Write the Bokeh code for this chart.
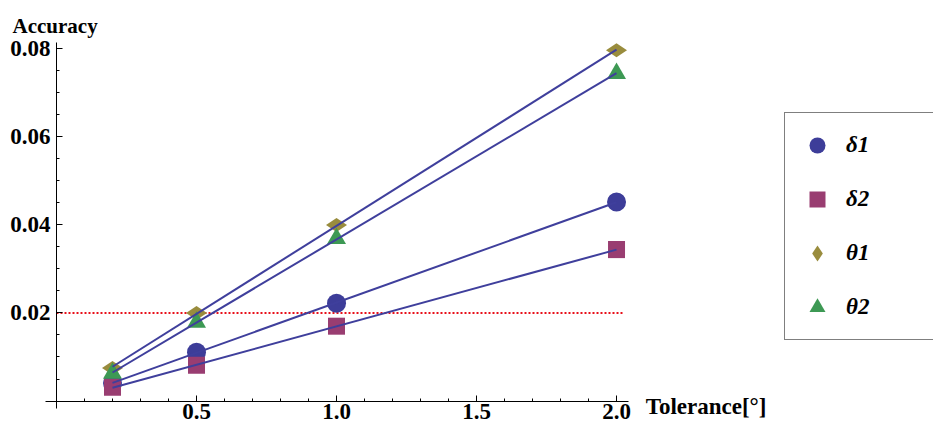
import numpy as np
from bokeh.plotting import figure
from bokeh.models import (Range1d, FixedTicker, PrintfTickFormatter, Label,
                          Legend, LegendItem)
from bokeh.embed import file_html
from bokeh.resources import INLINE

# Tolerance values (degrees) and accuracy for each parameter
tolerance = [0.2, 0.5, 1.0, 2.0]
delta1 = [0.0041, 0.0111, 0.0222, 0.0452]
delta2 = [0.0031, 0.0081, 0.0170, 0.0344]
theta1 = [0.0075, 0.0200, 0.0400, 0.0797]
theta2 = [0.0063, 0.0179, 0.0369, 0.0744]
series_names = ["δ1", "δ2", "θ1", "θ2"]

threshold = 0.02

x_major = [0.5, 1.0, 1.5, 2.0]
x_minor = [0.1, 0.2, 0.3, 0.4, 0.6, 0.7, 0.8, 0.9, 1.1, 1.2, 1.3, 1.4,
           1.6, 1.7, 1.8, 1.9]
y_major = [0.02, 0.04, 0.06, 0.08]
y_minor = [0.005, 0.01, 0.015, 0.025, 0.03, 0.035, 0.045, 0.05, 0.055,
           0.065, 0.07, 0.075]

FONT = "Liberation Serif"
LINE_COLOR = "#3f3f9c"
colors = ["#3d3d99", "#993d71", "#998c3d", "#3d9954"]
markers = ["circle", "square", "diamond", "triangle"]
angles = [0, 0, np.pi / 2, 0]
sizes = [19, 17, 21, 19]

p = figure(width=933, height=430, output_backend="svg", toolbar_location=None,
           x_range=Range1d(-0.2, 3.132), y_range=Range1d(-0.0067, 0.0910),
           min_border=0, min_border_left=0, min_border_right=0,
           min_border_top=0, min_border_bottom=0)
p.outline_line_color = None
p.grid.visible = False
p.background_fill_color = "white"
p.border_fill_color = "white"

# axes crossing at the origin
for ax in (p.xaxis[0], p.yaxis[0]):
    ax.fixed_location = 0
    ax.axis_line_color = "black"
    ax.axis_line_width = 1
    ax.major_tick_in = 6
    ax.major_tick_out = 0
    ax.minor_tick_in = 3
    ax.minor_tick_out = 0
    ax.major_tick_line_color = "black"
    ax.minor_tick_line_color = "black"
    ax.major_label_text_font = FONT
    ax.major_label_text_font_style = "bold"
    ax.major_label_text_font_size = "23px"
    ax.major_label_text_color = "black"

p.xaxis[0].ticker = FixedTicker(ticks=x_major, minor_ticks=x_minor)
p.xaxis[0].formatter = PrintfTickFormatter(format="%.1f")
p.xaxis[0].bounds = (-0.04, 2.043)
p.xaxis[0].major_label_standoff = 3

p.yaxis[0].ticker = FixedTicker(ticks=y_major, minor_ticks=y_minor)
p.yaxis[0].formatter = PrintfTickFormatter(format="%.2f")
p.yaxis[0].bounds = (-0.0017, 0.0814)
p.yaxis[0].major_label_standoff = 6

# dotted threshold line
p.line([0, 2.025], [threshold, threshold], line_color="#e8101a",
       line_width=2, line_dash="2 2")

all_series = [delta1, delta2, theta1, theta2]
renderers = []
for ys, col, mk, ang, sz in zip(all_series, colors, markers, angles, sizes):
    r = p.scatter(tolerance, ys, marker=mk, size=sz, angle=ang,
                  fill_color=col, line_color=None)
    renderers.append(r)

# least-squares lines over the tolerance range
xfit = np.array([tolerance[0], tolerance[-1]])
for ys in all_series:
    k, b = np.polyfit(tolerance, ys, 1)
    p.line(xfit, k * xfit + b, line_color=LINE_COLOR, line_width=2)

legend = Legend(items=[LegendItem(label=n, renderers=[r])
                       for n, r in zip(series_names, renderers)],
                location=(784, 90), margin=0, padding=12,
                glyph_width=40, glyph_height=40, spacing=14,
                label_standoff=9, label_width=110,
                label_text_font=FONT, label_text_font_style="bold italic",
                label_text_font_size="23px", label_text_color="black",
                border_line_color="black", border_line_width=1,
                background_fill_color="white", background_fill_alpha=1)
p.add_layout(legend)

p.add_layout(Label(x=-0.157, y=0.0853, text="Accuracy", text_font=FONT,
                   text_font_style="bold", text_font_size="21px",
                   text_baseline="alphabetic", text_color="black"))
p.add_layout(Label(x=2.104, y=-0.0013, text="Tolerance[°]", text_font=FONT,
                   text_font_style="bold", text_font_size="23px",
                   text_baseline="alphabetic", text_color="black"))

open("out.html", "w").write(file_html(p, INLINE))
